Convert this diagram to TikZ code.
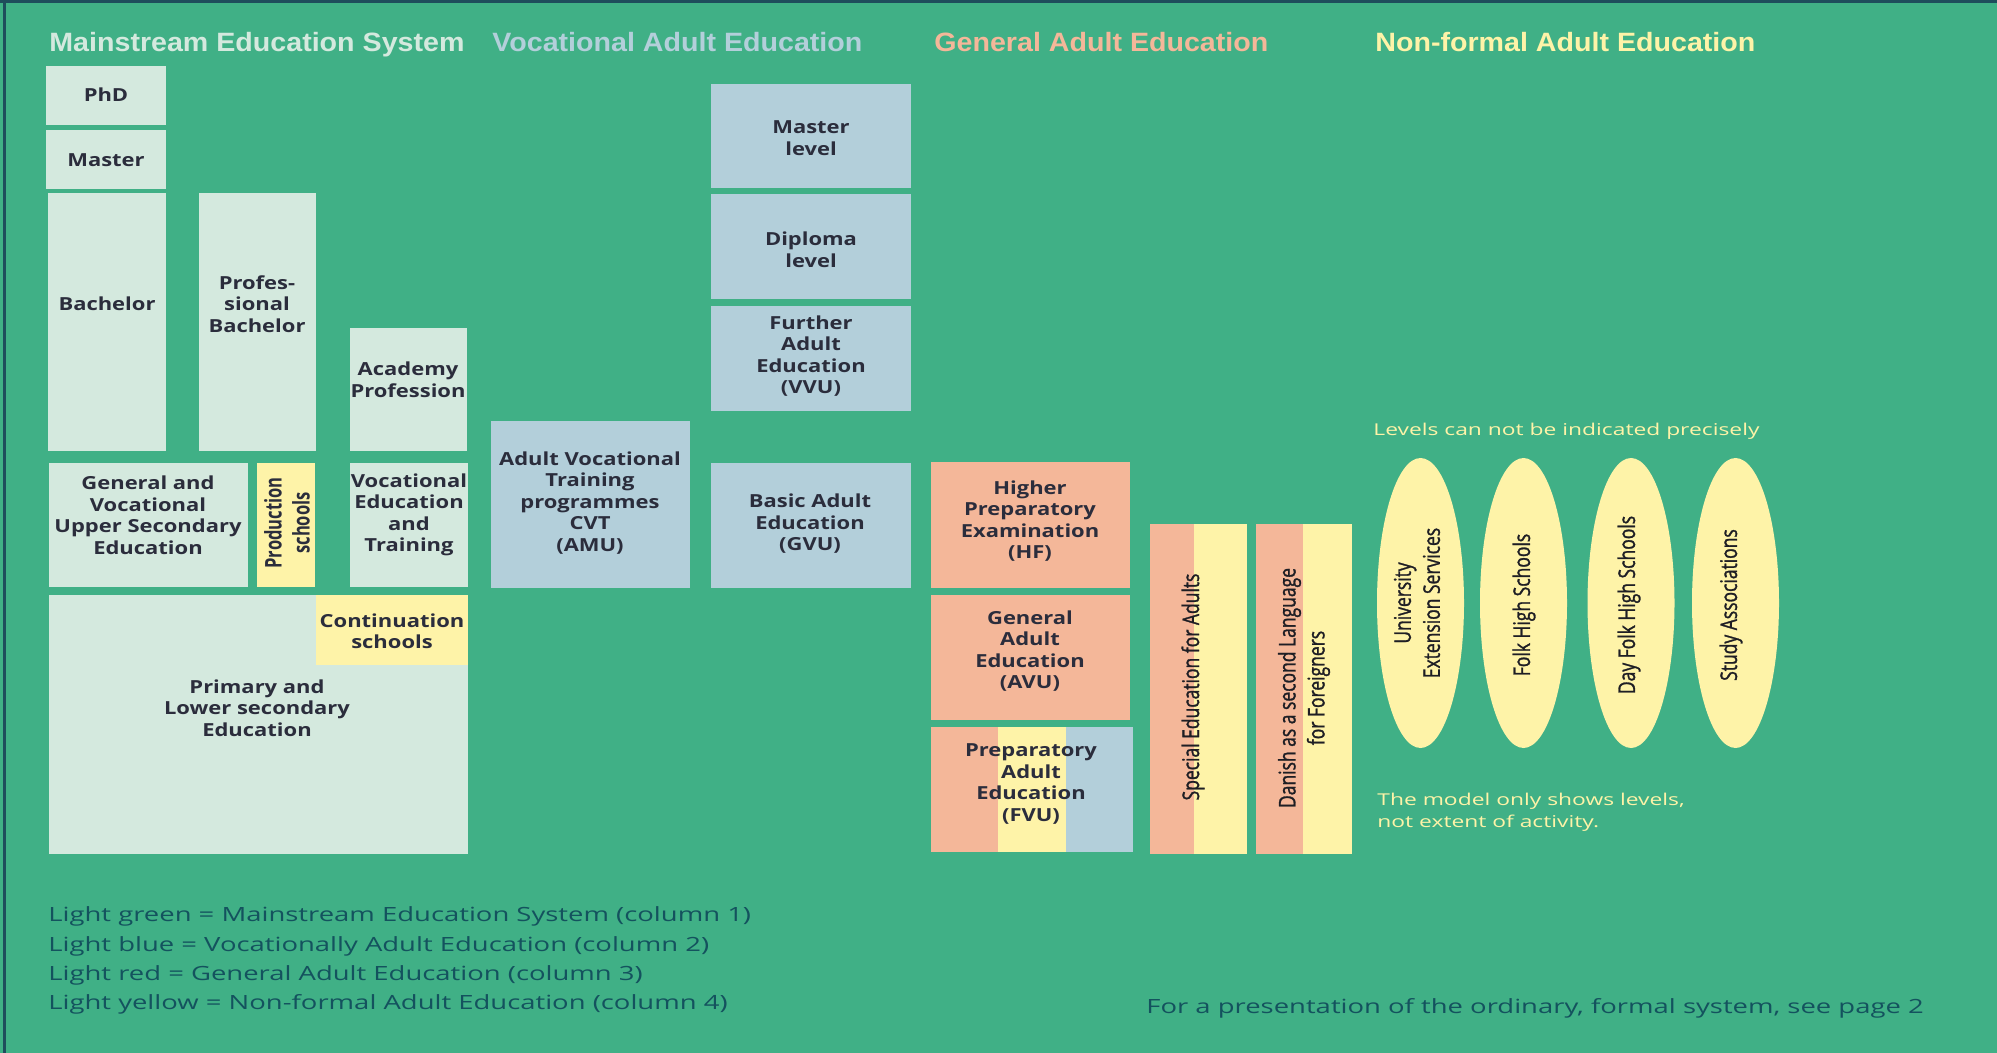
\documentclass[tikz,border=0pt]{standalone}
\usepackage{fontspec}
\usetikzlibrary{shapes.geometric,fit}
\setmainfont{Open Sans}
\newfontfamily\titlef{Liberation Sans}[FakeStretch=1.08]
\newfontfamily\boxf{Open Sans}[FakeStretch=1.22]
\newfontfamily\regf{Open Sans}[FakeStretch=1.4]
\newfontfamily\rotf{Open Sans}[FakeStretch=0.76,FakeBold=1.2]
\newfontfamily\rotbf{Open Sans}[FakeStretch=0.72]
\definecolor{bggreen}{HTML}{40B086}
\definecolor{lgreen}{HTML}{D4E9DE}
\definecolor{lblue}{HTML}{B3CFDA}
\definecolor{lred}{HTML}{F4B799}
\definecolor{lyellow}{HTML}{FEF3A8}
\definecolor{ink}{HTML}{2B2D3C}
\definecolor{rink}{HTML}{1E1E24}
\definecolor{legendink}{HTML}{14525E}
\definecolor{framec}{HTML}{1E4D5C}
\tikzset{
  blk/.style={inner sep=0pt, outer sep=0pt, draw=none},
  gbox/.style={blk, fill=lgreen},
  bbox/.style={blk, fill=lblue},
  rbox/.style={blk, fill=lred},
  ybox/.style={blk, fill=lyellow},
  btxt/.style={font=\boxf\bfseries\fontsize{9}{10.75}\selectfont, text=ink, align=center, inner sep=0pt},
  pbtxt/.style={font=\rotbf\bfseries\fontsize{11.5}{14}\selectfont, text=ink, align=center, inner sep=0pt, rotate=90},
  rtxt/.style={font=\rotf\fontsize{11.5}{14.5}\selectfont, text=rink, align=center, inner sep=0pt, rotate=90},
  ttl/.style={font=\titlef\bfseries\fontsize{13.25}{15}\selectfont, anchor=base west, inner sep=0pt},
  leg/.style={font=\regf\fontsize{9.8}{12}\selectfont, text=legendink, anchor=base west, inner sep=0pt},
  note/.style={font=\regf\fontsize{8.15}{11}\selectfont, text=lyellow, inner sep=0pt, align=left},
  oval/.style={ellipse, fill=lyellow, draw=none, inner sep=0pt, minimum width=43.5pt, minimum height=145pt}
}
\begin{document}
\begin{tikzpicture}[x=0.5pt,y=-0.5pt]
\useasboundingbox (0,0) rectangle (1997,1053);
\fill[bggreen] (0,0) rectangle (1997,1053);
\fill[framec] (0,0) rectangle (1997,3);
\fill[framec] (3,0) rectangle (6,1053);

% titles
\node[ttl, text=lgreen] (t1) at (49,52) {Mainstream Education System};
\node[ttl, text=lblue] (t2) at (492,52) {Vocational Adult Education};
\node[ttl, text=lred] (t3) at (934,52) {General Adult Education};
\node[ttl, text=lyellow] (t4) at (1375,52) {Non-formal Adult Education};

% column 1
\node[gbox, fit={(46,66) (166,125)}] (phd) {};
\node[gbox, fit={(46,130) (166,189)}] (master) {};
\node[gbox, fit={(48,193) (166,451)}] (bach) {};
\node[gbox, fit={(199,193) (316,451)}] (profb) {};
\node[gbox, fit={(350,328) (467,451)}] (acad) {};
\node[gbox, fit={(49,463) (248,587)}] (genvoc) {};
\node[ybox, fit={(257,463) (315,587)}] (prod) {};
\node[gbox, fit={(350,463) (468,587)}] (vet) {};
\node[gbox, fit={(49,595) (468,854)}] (prim) {};
\node[ybox, fit={(316,595) (468,665)}] (cont) {};

\node[btxt] (phd-t) at (106,95) {PhD};
\node[btxt] (master-t) at (106,160) {Master};
\node[btxt] (bach-t) at (107,304) {Bachelor};
\node[btxt] (profb-t) at (257,304) {Profes-\\sional\\Bachelor};
\node[btxt] (acad-t) at (408,380) {Academy\\Profession};
\node[btxt] (genvoc-t) at (148,515) {General and\\Vocational\\Upper Secondary\\Education};
\node[pbtxt] (prod-t) at (287,523) {Production\\schools};
\node[btxt] (vet-t) at (409,515) {Vocational\\Education\\and\\Training};
\node[btxt] (cont-t) at (392,631) {Continuation\\schools};
\node[btxt] (prim-t) at (257,708) {Primary and\\Lower secondary\\Education};

% column 2
\node[bbox, fit={(491,421) (690,588)}] (avt) {};
\node[bbox, fit={(711,84) (911,188)}] (mlev) {};
\node[bbox, fit={(711,194) (911,299)}] (dlev) {};
\node[bbox, fit={(711,306) (911,411)}] (fae) {};
\node[bbox, fit={(711,463) (911,588)}] (bae) {};

\node[btxt] (avt-t) at (590,503) {Adult Vocational\\Training\\programmes\\CVT\\(AMU)};
\node[btxt] (mlev-t) at (811,138) {Master\\level};
\node[btxt] (dlev-t) at (811,250) {Diploma\\level};
\node[btxt] (fae-t) at (811,356) {Further\\Adult\\Education\\(VVU)};
\node[btxt] (bae-t) at (810,524) {Basic Adult\\Education\\(GVU)};

% column 3
\node[rbox, fit={(931,462) (1130,588)}] (hf) {};
\node[rbox, fit={(931,595) (1130,720)}] (avu) {};
\node[rbox, fit={(931,727) (998,852)}] (fvu1) {};
\node[ybox, fit={(998,727) (1066,852)}] (fvu2) {};
\node[bbox, fit={(1066,727) (1133,852)}] (fvu3) {};
\node[rbox, fit={(1150,524) (1194,854)}] (sea1) {};
\node[ybox, fit={(1194,524) (1247,854)}] (sea2) {};
\node[rbox, fit={(1256,524) (1303,854)}] (dan1) {};
\node[ybox, fit={(1303,524) (1352,854)}] (dan2) {};

\node[btxt] (hf-t) at (1030,521) {Higher\\Preparatory\\Examination\\(HF)};
\node[btxt] (avu-t) at (1030,651) {General\\Adult\\Education\\(AVU)};
\node[btxt] (fvu-t) at (1031,784) {Preparatory\\Adult\\Education\\(FVU)};
\node[rtxt] (sea-t) at (1193,687) {Special Education for Adults};
\node[rtxt] (dan-t) at (1304,688) {Danish as a second Language\\for Foreigners};

% column 4
\node[note, anchor=base west] (levels) at (1373,436) {Levels can not be indicated precisely};
\node[oval] (e1) at (1420.5,603) {};
\node[oval] (e2) at (1523.5,603) {};
\node[oval] (e3) at (1631,603) {};
\node[oval] (e4) at (1735.5,603) {};
\node[rtxt] (e1-t) at (1417,603) {University\\Extension Services};
\node[rtxt] (e2-t) at (1524,605) {Folk High Schools};
\node[rtxt] (e3-t) at (1629,605) {Day Folk High Schools};
\node[rtxt] (e4-t) at (1731,605) {Study Associations};
\node[note, anchor=west] (model) at (1377,812) {The model only shows levels,\\not extent of activity.};

% legend
\node[leg] (lg1) at (48,921) {Light green = Mainstream Education System (column 1)};
\node[leg] (lg2) at (48,951) {Light blue = Vocationally Adult Education (column 2)};
\node[leg] (lg3) at (48,980) {Light red = General Adult Education (column 3)};
\node[leg] (lg4) at (48,1009) {Light yellow = Non-formal Adult Education (column 4)};
\node[leg] (page) at (1146,1013) {For a presentation of the ordinary, formal system, see page 2};
\end{tikzpicture}
\end{document}
